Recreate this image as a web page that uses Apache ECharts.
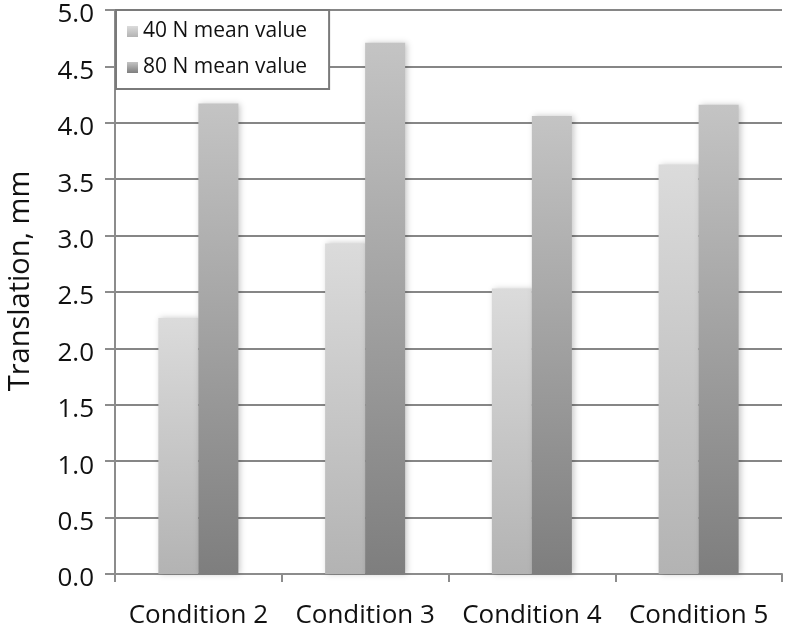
<!DOCTYPE html>
<html>
<head>
<meta charset="utf-8">
<script src="https://cdn.jsdelivr.net/npm/echarts@6/dist/echarts.min.js"></script>
<style>html,body{margin:0;padding:0;background:#fff}#c{width:792px;height:631px}</style>
</head>
<body>
<div id="c"></div>
<script>
var categories = ['Condition 2', 'Condition 3', 'Condition 4', 'Condition 5'];
var seriesNames = ['40 N mean value', '80 N mean value'];
var values40 = [2.27, 2.93, 2.53, 3.63];
var values80 = [4.17, 4.71, 4.06, 4.16];
var yTicks = ['0.0','0.5','1.0','1.5','2.0','2.5','3.0','3.5','4.0','4.5','5.0'];

var chart = echarts.init(document.getElementById('c'));
var FONT = '"Open Sans"';
function grad(top, bottom) {
  return new echarts.graphic.LinearGradient(0, 0, 0, 1, [
    {offset: 0, color: top}, {offset: 1, color: bottom}
  ]);
}
var barStyle = function (c) {
  return {color: c, shadowBlur: 6, shadowColor: 'rgba(0,0,0,0.22)', shadowOffsetX: 2, shadowOffsetY: 0};
};
chart.setOption({
  animation: false,
  backgroundColor: '#fff',
  grid: {left: 115, right: 10, top: 10, bottom: 57, containLabel: false, outerBoundsMode: 'none'},
  legend: {
    orient: 'vertical', left: 116, top: 10,
    data: seriesNames,
    backgroundColor: '#fff', borderColor: '#7a7a7a', borderWidth: 2,
    padding: [11, 22, 11, 11],
    itemWidth: 11, itemHeight: 11, itemGap: 15,
    textStyle: {fontFamily: FONT, fontSize: 21, color: '#111'},
    icon: 'rect'
  },
  xAxis: {
    type: 'category', data: categories,
    axisLine: {lineStyle: {color: '#8c8c8c', width: 2}},
    axisTick: {show: true, interval: 0, length: 8, lineStyle: {color: '#8c8c8c', width: 2}},
    axisLabel: {interval: 0, hideOverlap: false, fontFamily: FONT, fontSize: 26, color: '#111', margin: 29}
  },
  yAxis: {
    type: 'value', min: 0, max: 5, interval: 0.5,
    name: 'Translation, mm', nameLocation: 'middle', nameGap: 80, nameRotate: 90,
    nameTextStyle: {fontFamily: FONT, fontSize: 29, color: '#111', padding: [0, 0, 0, 22]},
    axisLine: {show: true, lineStyle: {color: '#8c8c8c', width: 2}},
    axisTick: {show: true, inside: false, length: 10, lineStyle: {color: '#8c8c8c', width: 2}},
    axisLabel: {color: '#111', margin: 21,
      formatter: function (v) { return '{v|' + yTicks[Math.round(v * 2)] + '}'; },
      rich: {v: {fontFamily: FONT, fontSize: 26, color: '#111', padding: [10, 0, 0, 0]}}},
    splitLine: {lineStyle: {color: '#868686', width: 2}}
  },
  series: [
    {name: seriesNames[0], type: 'bar', data: values40, barWidth: 40, barGap: '0%',
     itemStyle: barStyle(grad('#dbdbdb', '#b3b3b3'))},
    {name: seriesNames[1], type: 'bar', data: values80, barWidth: 40, barGap: '0%',
     itemStyle: barStyle(grad('#c4c4c4', '#7e7e7e'))}
  ]
});
</script>
</body>
</html>
